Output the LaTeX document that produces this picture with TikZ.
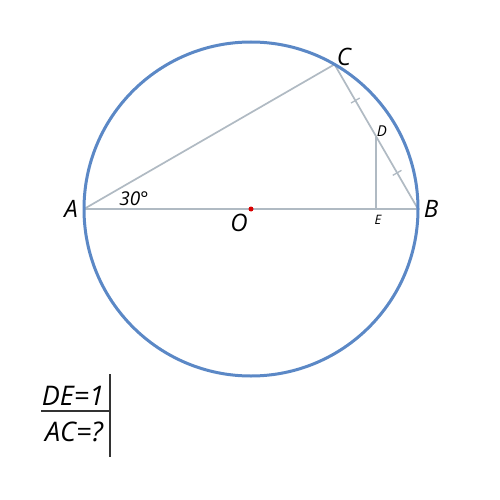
\documentclass[tikz,border=0pt]{standalone}
\usepackage{fontspec}
\setmainfont{Open Sans}
\usetikzlibrary{calc}
\definecolor{circblue}{HTML}{5B88C6}
\definecolor{lgrey}{HTML}{B0BAC3}
\begin{document}
\begin{tikzpicture}[x=1pt,y=-1pt,
  seg/.style={draw=lgrey,line width=1.7pt},
  lbl/.style={font=\itshape\fontsize{24}{24}\selectfont,inner sep=0pt},
  tick/.style={draw=lgrey,line width=1.3pt}]
\useasboundingbox[fill=white] (0,0) rectangle (500,500);
\coordinate (O) at (251,209);
\coordinate (A) at (84,209);
\coordinate (B) at (418,209);
\coordinate (C) at ($(O)+(60:167 and -167)$);
\coordinate (D) at ($(C)!0.5!(B)$);
\coordinate (E) at (D |- A);
\draw[seg] (A) -- (B);
\draw[seg] (A) -- (C) -- (B);
\draw[seg] (D) -- (E);
\draw[tick] ($(C)!0.5!(D)!5pt!90:(D)$) -- ($(C)!0.5!(D)!5pt!-90:(D)$);
\draw[tick] ($(D)!0.5!(B)!5pt!90:(B)$) -- ($(D)!0.5!(B)!5pt!-90:(B)$);
\draw[circblue,line width=3pt] (O) circle[radius=167];
\fill[red!85!black] (O) circle[radius=2.5];
\node[lbl] (lA) at (71,209) {A};
\node[lbl] (lB) at (431,209) {B};
\node[lbl] (lC) at (344,57) {C};
\node[lbl] (lO) at (239,223) {O};
\node[lbl,font=\itshape\fontsize{19}{19}\selectfont] (l30) at (134,199) {30°};
\node[lbl,font=\itshape\fontsize{15}{15}\selectfont] (lD) at (382,131) {D};
\node[lbl,font=\itshape\fontsize{13}{13}\selectfont] (lE) at (378,220) {E};
\node[lbl,font=\itshape\fontsize{27}{27}\selectfont,anchor=base] (q1) at (73,405) {DE=1};
\node[lbl,font=\itshape\fontsize{27}{27}\selectfont,anchor=base] (q2) at (74,441) {AC=?};
\draw[line width=1.5pt,black!80] (41,411) -- (110,411);
\draw[line width=1.5pt,black!80] (110,374) -- (110,457);
\end{tikzpicture}
\end{document}
